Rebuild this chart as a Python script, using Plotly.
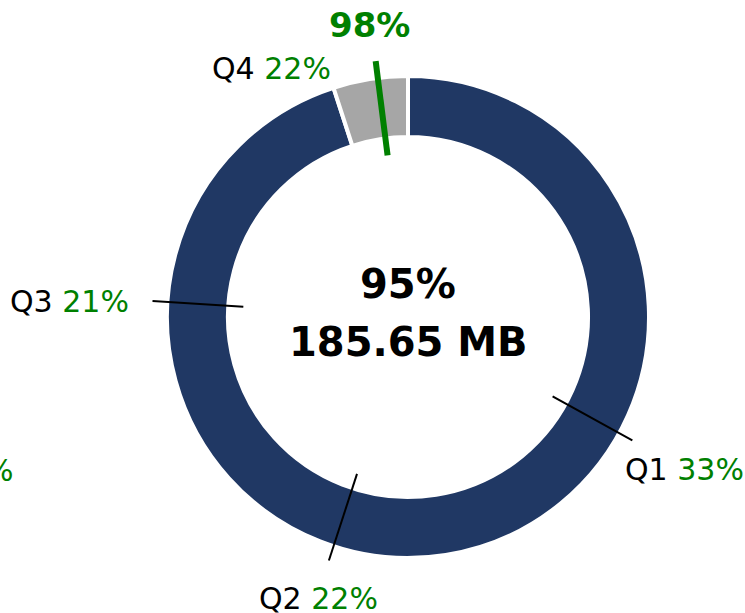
import math
import plotly.graph_objects as go

# ---- data ----
quarters = ["Q1", "Q2", "Q3", "Q4"]
quarter_pct = [33, 22, 21, 22]
used_pct = 95
target_pct = 98
used_label = "185.65 MB"
edge_label = "5%"

# ---- style / geometry ----
W, H = 745, 613
CX, CY, R = 408, 317, 241          # pie centre & outer radius in px
NAVY, GREY, GREEN = "#203864", "#A6A6A6", "#008000"
FONT = "DejaVu Sans, Verdana, sans-serif"


def px_to_paper(x, y):
    return x / W, 1 - y / H


def polar_px(pct, r_px):
    a = math.radians(pct * 3.6)
    return CX + r_px * math.sin(a), CY - r_px * math.cos(a)


fig = go.Figure()

x0, _ = px_to_paper(CX - R, 0)
x1, _ = px_to_paper(CX + R, 0)
_, y0 = px_to_paper(0, CY + R)
_, y1 = px_to_paper(0, CY - R)

fig.add_trace(go.Pie(
    values=[used_pct, 100 - used_pct],
    labels=["Used", "Free"],
    hole=0.747,
    sort=False,
    direction="clockwise",
    rotation=0,
    marker=dict(colors=[NAVY, GREY], line=dict(color="white", width=4)),
    textinfo="none",
    hoverinfo="skip",
    showlegend=False,
    domain=dict(x=[x0, x1], y=[y0, y1]),
))

shapes = []
annotations = []

# quarter boundary ticks
cum = 0
ends = []
for i, p in enumerate(quarter_pct):
    cum += p
    xa, ya = polar_px(cum, 165)
    xb, yb = polar_px(cum, 256)
    ends.append((xb, yb))
    if cum != target_pct:
        pa = px_to_paper(xa, ya)
        pb = px_to_paper(xb, yb)
        shapes.append(dict(type="line", xref="paper", yref="paper",
                           x0=pa[0], y0=pa[1], x1=pb[0], y1=pb[1],
                           line=dict(color="black", width=2)))

# target line
xa, ya = polar_px(target_pct, 163)
xb, yb = polar_px(target_pct, 258)
pa = px_to_paper(xa, ya)
pb = px_to_paper(xb, yb)
shapes.append(dict(type="line", xref="paper", yref="paper",
                   x0=pa[0], y0=pa[1], x1=pb[0], y1=pb[1],
                   line=dict(color=GREEN, width=6)))
ends[-1] = (xb, yb)
tx, ty = px_to_paper(xb - 6, yb - 36)
annotations.append(dict(x=tx, y=ty, xref="paper", yref="paper",
                        text=f"<b>{target_pct}%</b>",
                        showarrow=False, xanchor="center", yanchor="middle",
                        font=dict(family=FONT, size=34, color=GREEN)))

# quarter labels (anchor / offset per position)
label_style = [
    dict(xanchor="left", dx=-9, dy=29),
    dict(xanchor="center", dx=-10, dy=38),
    dict(xanchor="right", dx=-22, dy=1),
    dict(xanchor="right", dx=-43, dy=7),
]
for i, (q, p) in enumerate(zip(quarters, quarter_pct)):
    ex, ey = ends[i]
    st = label_style[i]
    lx, ly = px_to_paper(ex + st["dx"], ey + st["dy"])
    annotations.append(dict(
        x=lx, y=ly, xref="paper", yref="paper", showarrow=False,
        xanchor=st["xanchor"], yanchor="middle",
        text=f"{q} <span style='color:{GREEN}'>{p}%</span>",
        font=dict(family=FONT, size=30, color="black")))

# centre text
cx, cy = px_to_paper(CX, CY - 33)
annotations.append(dict(x=cx, y=cy, xref="paper", yref="paper", showarrow=False,
                        text=f"<b>{used_pct}%</b>", xanchor="center", yanchor="middle",
                        font=dict(family=FONT, size=40, color="black")))
cx, cy = px_to_paper(CX, CY + 25)
annotations.append(dict(x=cx, y=cy, xref="paper", yref="paper", showarrow=False,
                        text=f"<b>{used_label}</b>", xanchor="center", yanchor="middle",
                        font=dict(family=FONT, size=40, color="black")))

# clipped label at left edge
ex, ey = px_to_paper(16, 470)
annotations.append(dict(x=ex, y=ey, xref="paper", yref="paper", showarrow=False,
                        text=edge_label, xanchor="right", yanchor="middle",
                        font=dict(family=FONT, size=30, color=GREEN)))

fig.update_layout(
    width=W, height=H,
    margin=dict(l=0, r=0, t=0, b=0),
    paper_bgcolor="white", plot_bgcolor="white",
    shapes=shapes, annotations=annotations,
    showlegend=False,
)

fig.write_html("out.html", config={"displayModeBar": False},
               post_script="document.body.style.margin='0';")
